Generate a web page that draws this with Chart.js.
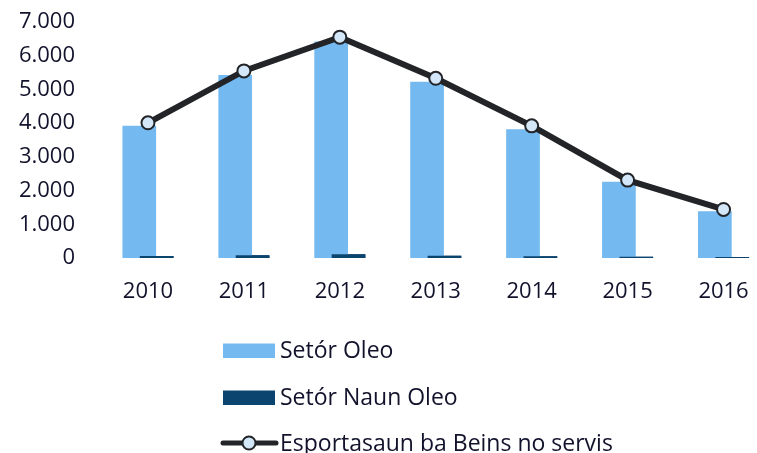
<!DOCTYPE html>
<html>
<head>
<meta charset="utf-8">
<script src="https://cdn.jsdelivr.net/npm/chart.js@4"></script>
<style>
  html, body { margin: 0; padding: 0; background: #fff; overflow: hidden; }
  #wrap { width: 780px; height: 453px; }
</style>
</head>
<body>
<div id="wrap"><canvas id="chart" width="780" height="453"></canvas></div>
<script>
  // Data
  const years = ['2010', '2011', '2012', '2013', '2014', '2015', '2016'];
  const oilSector = [3920, 5430, 6420, 5230, 3820, 2260, 1390];
  const nonOilSector = [60, 80, 110, 70, 50, 40, 30];
  const serviceExports = [4010, 5550, 6550, 5330, 3920, 2310, 1440];

  const labelOil = 'Setór Oleo';
  const labelNonOil = 'Setór Naun Oleo';
  const labelExports = 'Esportasaun ba Beins no servis';

  const textColor = '#12122c';
  const fontFamily = '"Open Sans", Lato, sans-serif';

  function fmt(v) {
    return v.toString().replace(/\B(?=(\d{3})+(?!\d))/g, '.');
  }

  // navy bars sit over the light ones in the original
  const navyOnTop = {
    id: 'navyOnTop',
    afterDatasetDraw(chart, args) {
      if (args.index === 0) chart.getDatasetMeta(1).controller.draw();
    }
  };

  // vertical legend under the chart
  const stackedLegend = {
    id: 'stackedLegend',
    afterDraw(chart) {
      const ctx = chart.ctx;
      const x0 = 223, boxW = 52, textX = 280;
      const rows = [350.5, 397.5, 443];
      ctx.save();
      ctx.font = '23px ' + fontFamily;
      ctx.textBaseline = 'middle';
      chart.data.datasets.forEach((ds, i) => {
        const y = rows[i];
        if (ds.type === 'line') {
          ctx.strokeStyle = ds.borderColor;
          ctx.lineWidth = 5;
          ctx.lineCap = 'round';
          ctx.beginPath();
          ctx.moveTo(x0, y);
          ctx.lineTo(x0 + boxW + 1, y);
          ctx.stroke();
          ctx.beginPath();
          ctx.arc(x0 + boxW / 2, y, 6.5, 0, Math.PI * 2);
          ctx.fillStyle = ds.pointBackgroundColor;
          ctx.fill();
          ctx.lineWidth = 2;
          ctx.strokeStyle = ds.pointBorderColor;
          ctx.stroke();
        } else {
          ctx.fillStyle = ds.backgroundColor;
          ctx.fillRect(x0, y - 7, boxW, 14.5);
        }
        ctx.fillStyle = textColor;
        ctx.fillText(ds.label, textX, y + 1);
      });
      ctx.restore();
    }
  };

  new Chart(document.getElementById('chart'), {
    data: {
      labels: years,
      datasets: [
        {
          type: 'bar', label: labelOil, data: oilSector,
          backgroundColor: '#74b9ef', order: 1,
          categoryPercentage: 0.362, barPercentage: 1.94
        },
        {
          type: 'bar', label: labelNonOil, data: nonOilSector,
          backgroundColor: '#0c4470', order: 1,
          categoryPercentage: 0.362, barPercentage: 1.94
        },
        {
          type: 'line', label: labelExports, data: serviceExports,
          borderColor: '#232428', borderWidth: 6, order: 0,
          pointRadius: 6.5, pointBackgroundColor: '#d3e7f8',
          pointBorderColor: '#232428', pointBorderWidth: 2,
          tension: 0
        }
      ]
    },
    options: {
      responsive: false,
      animation: false,
      layout: { padding: { top: 22, right: 3, bottom: 0, left: 0 } },
      plugins: {
        legend: { display: false },
        tooltip: { enabled: false }
      },
      scales: {
        x: {
          grid: { display: false, drawTicks: false },
          border: { display: false },
          ticks: { color: textColor, font: { family: fontFamily, size: 22 }, padding: 21 },
          afterFit(scale) { scale.height = 195; }
        },
        y: {
          min: 0, max: 7000,
          grid: { display: false, drawTicks: false },
          border: { display: false },
          ticks: {
            stepSize: 1000, color: textColor, padding: 25,
            font: { family: fontFamily, size: 22 },
            callback: v => fmt(v)
          },
          afterFit(scale) {
            scale.width = 100;
            // tick padding would otherwise push the plot top down
            scale.paddingTop = 0;
            scale.paddingBottom = 0;
          }
        }
      }
    },
    plugins: [navyOnTop, stackedLegend]
  });
</script>
</body>
</html>
